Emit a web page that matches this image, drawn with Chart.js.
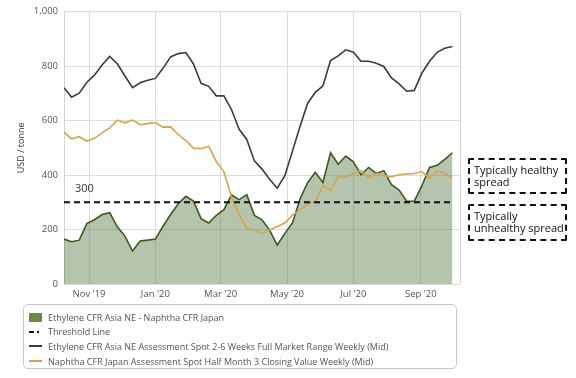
<!DOCTYPE html>
<html><head><meta charset="utf-8">
<script src="https://cdn.jsdelivr.net/npm/chart.js@4.4.0/dist/chart.umd.min.js"></script>
<style>
html,body{margin:0;padding:0;background:#fff;}
#wrap{position:relative;width:576px;height:378px;overflow:hidden;font-family:'Open Sans',sans-serif;}
#c{position:absolute;left:0;top:0;}
.note{position:absolute;left:468px;width:99px;border:2px dashed #111;border-radius:2px;color:#111;font-size:11px;line-height:11.5px;padding:4px 0 0 4px;box-sizing:border-box;}
#legend{position:absolute;left:23px;top:304px;width:434px;height:65px;border:1px solid #c8c8c8;border-radius:5px;box-sizing:border-box;padding:5px 0 0 5px;}
.li{height:14.6px;display:flex;align-items:center;font-size:9px;color:#555;white-space:nowrap;}
.sym{width:13px;height:8px;margin-right:6px;position:relative;flex:none;}
</style></head>
<body><div id="wrap"><canvas id="c" width="576" height="378"></canvas>
<div class="note" style="top:158px;height:36px;">Typically healthy<br>spread</div>
<div class="note" style="top:204px;height:37px;">Typically<br>unhealthy spread</div>
<div id="legend"></div>
</div>
<script>
// Weekly assessment dates
const dates = ['2019-10-09','2019-10-16','2019-10-23','2019-10-30','2019-11-06','2019-11-13','2019-11-20','2019-11-27','2019-12-04','2019-12-11','2019-12-18','2019-12-25',
'2020-01-01','2020-01-08','2020-01-15','2020-01-22','2020-01-29','2020-02-05','2020-02-12','2020-02-19','2020-02-26','2020-03-04','2020-03-11','2020-03-18','2020-03-25',
'2020-04-01','2020-04-08','2020-04-15','2020-04-22','2020-04-29','2020-05-06','2020-05-13','2020-05-20','2020-05-27','2020-06-03','2020-06-10','2020-06-17','2020-06-24',
'2020-07-01','2020-07-08','2020-07-15','2020-07-22','2020-07-29','2020-08-05','2020-08-12','2020-08-19','2020-08-26','2020-09-02','2020-09-09','2020-09-16','2020-09-23','2020-09-30'];
// Ethylene CFR Asia NE (USD/t)
const ethylene = [721,686,701,741,767,804,836,809,764,721,739,748,755,792,834,846,850,808,737,726,691,691,640,568,531,452,422,385,352,398,488,579,664,704,728,821,838,860,851,818,818,811,799,757,735,708,711,775,818,851,866,872];
// Naphtha CFR Japan (USD/t)
const naphtha = [558,533,541,525,535,555,573,602,592,602,585,589,593,576,577,549,527,499,497,506,450,412,318,255,204,200,185,198,211,224,253,272,294,302,362,343,394,392,406,416,390,405,398,394,401,404,406,413,388,416,406,388];
// Spread Ethylene - Naphtha (USD/t)
const spread = [165,155,161,222,236,255,262,210,176,121,158,161,165,212,255,295,322,305,240,224,252,273,327,310,328,252,236,198,143,186,224,313,373,410,373,482,440,470,449,401,428,406,416,365,345,304,304,361,428,436,458,482];
// Threshold
const thresholdValue = 300;
// Axis
const xRange = ['2019-10-09','2020-10-07'];
const tickDates = ['2019-11-01','2020-01-01','2020-03-01','2020-05-01','2020-07-01','2020-09-01'];
const tickLabels = ["Nov '19","Jan '20","Mar '20","May '20","Jul '20","Sep '20"];
const yTicks = [0,200,400,600,800,1000];

const dayNum = s => Date.UTC(+s.slice(0,4), +s.slice(5,7)-1, +s.slice(8,10)) / 86400000;
const xs = dates.map(dayNum);
const pts = arr => arr.map((v,i)=>({x:xs[i], y:v}));
const tickVals = tickDates.map(dayNum);

const FONT = "'Open Sans', sans-serif";

const extras = {
  id:'extras',
  afterDatasetsDraw(chart){
    const {ctx, chartArea:a, scales} = chart;
    ctx.save();
    ctx.strokeStyle = '#d4d4d4'; ctx.lineWidth = 1;
    ctx.beginPath(); ctx.moveTo(Math.round(a.right)+0.5, a.top); ctx.lineTo(Math.round(a.right)+0.5, a.bottom); ctx.stroke();
    ctx.fillStyle = '#333';
    ctx.font = "11px " + FONT;
    ctx.textAlign = 'left'; ctx.textBaseline = 'bottom';
    ctx.fillText(String(thresholdValue), scales.x.getPixelForValue(xs[0]) + 11, scales.y.getPixelForValue(thresholdValue) - 8);
    ctx.restore();
  }
};

new Chart(document.getElementById('c'), {
  type:'line',
  data:{datasets:[
    {label:'Threshold Line', data:[{x:xs[0],y:thresholdValue},{x:xs[xs.length-1]+1,y:thresholdValue}], borderColor:'#111', borderWidth:2, borderDash:[6,4], pointRadius:0, fill:false, order:0},
    {label:'Naphtha CFR Japan Assessment Spot Half Month 3 Closing Value Weekly (Mid)', data:pts(naphtha), borderColor:'#d9a448', borderWidth:1.6, pointRadius:0, fill:false, tension:0, order:1},
    {label:'Ethylene CFR Asia NE Assessment Spot 2-6 Weeks Full Market Range Weekly (Mid)', data:pts(ethylene), borderColor:'#2e3e46', borderWidth:1.6, pointRadius:0, fill:false, tension:0, order:2},
    {label:'Ethylene CFR Asia NE - Naphtha CFR Japan', data:pts(spread), borderColor:'#3b5a20', borderWidth:1.6, backgroundColor:'rgba(92,124,70,0.45)', pointRadius:0, fill:'origin', tension:0, order:3}
  ]},
  options:{
    responsive:false, animation:false,
    layout:{padding:{left:0,right:116,top:10,bottom:0}},
    plugins:{legend:{display:false}, tooltip:{enabled:false}},
    scales:{
      x:{type:'linear', min:dayNum(xRange[0]), max:dayNum(xRange[1]),
        afterBuildTicks(s){ s.ticks = tickVals.map(v=>({value:v})); },
        afterFit(s){ s.height = 94; },
        grid:{color:'#dcdcdc', drawTicks:false},
        border:{display:false},
        ticks:{autoSkip:false, maxRotation:0, padding:5, color:'#555', font:{family:FONT,size:9.5},
          callback(v){ const i = tickVals.indexOf(v); return i>=0 ? tickLabels[i] : ''; }}
      },
      y:{min:0, max:1000,
        afterBuildTicks(s){ s.ticks = yTicks.map(v=>({value:v})); },
        afterFit(s){ s.width = 64; },
        grid:{color:'#dcdcdc', drawTicks:false},
        border:{display:true, color:'#d4d4d4'},
        title:{display:true, text:'USD / tonne', color:'#333', font:{family:FONT,size:9}, padding:{top:16,bottom:0}},
        ticks:{padding:6, color:'#555', font:{family:FONT,size:9.5}, callback:v=>v.toLocaleString('en-US')}
      }
    }
  },
  plugins:[extras]
});

// HTML legend
const legendItems = [
  {t:'Ethylene CFR Asia NE - Naphtha CFR Japan', s:'<div class="sym" style="background:#6b8a45;border-radius:1px;height:9px;width:13px"></div>'},
  {t:'Threshold Line', s:'<div class="sym"><span style="position:absolute;left:0;top:3px;width:5px;height:2px;background:#111"></span><span style="position:absolute;left:8px;top:3px;width:2px;height:2px;background:#111"></span></div>'},
  {t:'Ethylene CFR Asia NE Assessment Spot 2-6 Weeks Full Market Range Weekly (Mid)', s:'<div class="sym"><span style="position:absolute;left:0;top:3px;width:13px;height:2px;background:#2e3e46"></span></div>'},
  {t:'Naphtha CFR Japan Assessment Spot Half Month 3 Closing Value Weekly (Mid)', s:'<div class="sym"><span style="position:absolute;left:0;top:3px;width:13px;height:2px;background:#d9a448"></span></div>'}
];
document.getElementById('legend').innerHTML = legendItems.map(it=>'<div class="li">'+it.s+'<span>'+it.t+'</span></div>').join('');
</script>
</body></html>
